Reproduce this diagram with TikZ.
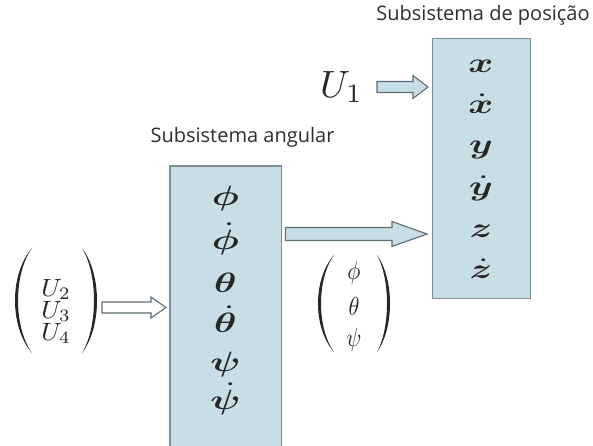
\documentclass[tikz,border=0pt]{standalone}
\usepackage{amsmath,bm}
\usepackage{fontspec}
\newfontfamily\uifont{Open Sans}
\usetikzlibrary{calc}
\definecolor{boxfill}{HTML}{C8DDE5}
\definecolor{boxline}{HTML}{7D8E94}
\definecolor{arrline}{HTML}{5E6E74}
\definecolor{ink}{HTML}{262626}
\definecolor{titleink}{HTML}{2E2E2E}
\newcommand\wide[1]{\scalebox{3.8}[2.8]{$#1$}}
\newcommand\mscale[3]{\scalebox{#1}[#2]{$#3$}}
\newcommand\barrow[6][]{% style, start, end, shaft half, head half, head length
  \draw[blockarr,#1] let \p1=(#2), \p2=(#3) in
    (\x1,\y1+#4) -- (\x2-#6,\y1+#4) -- (\x2-#6,\y1+#5) -- (\x2,\y1)
    -- (\x2-#6,\y1-#5) -- (\x2-#6,\y1-#4) -- (\x1,\y1-#4) -- cycle;}
\newcommand\parenshape[5]{% xend, ytop, ybot, xextreme, thickness
  \fill[parenink] (#1,#2)
    .. controls ({(4*#4-#1)/3},{#2+0.25*(#3-#2)}) and ({(4*#4-#1)/3},{#2+0.75*(#3-#2)}) .. (#1,#3)
    .. controls ({(4*(#4+#5)-#1)/3},{#2+0.75*(#3-#2)}) and ({(4*(#4+#5)-#1)/3},{#2+0.25*(#3-#2)}) .. (#1,#2) -- cycle;}
\begin{document}
\begin{tikzpicture}[x=1pt,y=-1pt,
  every node/.style={inner sep=0pt, text=ink},
  var/.style={anchor=base},
  title/.style={anchor=base, font=\uifont\fontsize{20}{20}\selectfont, text=titleink},
  blockarr/.style={draw=arrline, line width=1.1pt, line join=miter, fill=boxfill},
  parenink/.style={fill=ink},
  boxline/.style={draw=boxline, line width=1.4pt}]
\useasboundingbox (0,0) rectangle (593,445);
\fill[white] (0,0) rectangle (593,445);

% titles
\node[title] (tpos) at (483,20) {Subsistema de posição};
\node[title] (tang) at (242.5,142) {Subsistema angular};

% position box
\node[boxline, fill=boxfill, minimum width=98, minimum height=260, anchor=north west] (pos) at (432,38) {};
\node[var] (x)  at (481,72)  {\wide{\bm{x}}};
\node[var] (xd) at (481,113) {\wide{\bm{\dot{x}}}};
\node[var] (y)  at (481,153) {\wide{\bm{y}}};
\node[var] (yd) at (481,195) {\wide{\bm{\dot{y}}}};
\node[var] (z)  at (481,237) {\wide{\bm{z}}};
\node[var] (zd) at (481,278) {\wide{\bm{\dot{z}}}};

% angular box
\node[fill=boxfill, minimum width=111, minimum height=285, anchor=north west] (ang) at (170,166) {};
\draw[boxline] (ang.south west) -- (ang.north west) -- (ang.north east) -- (ang.south east);
\node[var] (phi)  at (225.5,205) {\wide{\bm{\phi}}};
\node[var] (phid) at (225.5,249) {\wide{\bm{\dot{\phi}}}};
\node[var] (th)   at (225.5,292) {\wide{\bm{\theta}}};
\node[var] (thd)  at (225.5,332) {\wide{\bm{\dot{\theta}}}};
\node[var] (psi)  at (225.5,371) {\wide{\bm{\psi}}};
\node[var] (psid) at (225.5,409) {\wide{\bm{\dot{\psi}}}};

% U1 input
\node[anchor=base west] (u1) at (320,97) {\mscale{3.8}{3.8}{U_1}};
\coordinate (a1s) at (377,87);
\coordinate (a1e) at ($(pos.west|-a1s)+(-4,0)$);
\barrow{a1s}{a1e}{5.5pt}{11.5pt}{15pt}

% U2..U4 input vector
\parenshape{32}{248}{353}{15}{3}
\parenshape{82}{248}{353}{97}{-3}
\node[var] (u2) at (56,296) {\mscale{2.6}{2.5}{U_2}};
\node[var] (u3) at (56,318) {\mscale{2.6}{2.5}{U_3}};
\node[var] (u4) at (56,340) {\mscale{2.6}{2.5}{U_4}};
\coordinate (a2s) at (102,307.5);
\coordinate (a2e) at ($(ang.west|-a2s)+(-4,0)$);
\barrow[fill=white]{a2s}{a2e}{5.5pt}{10.5pt}{15pt}

% angular -> position
\coordinate (a3s) at ($(ang.east|-0,234)+(4,0)$);
\coordinate (a3e) at ($(pos.west|-a3s)+(-5,0)$);
\barrow{a3s}{a3e}{6.5pt}{12.5pt}{35pt}

% (phi theta psi) vector
\parenshape{334}{255}{352}{318}{3}
\parenshape{377}{255}{352}{390}{-3}
\node[var] (vphi) at (354,279) {\mscale{2.2}{2.6}{\phi}};
\node[var] (vth)  at (354,315) {\mscale{2.2}{2.6}{\theta}};
\node[var] (vpsi) at (354,346) {\mscale{2.2}{2.6}{\psi}};
\end{tikzpicture}
\end{document}
